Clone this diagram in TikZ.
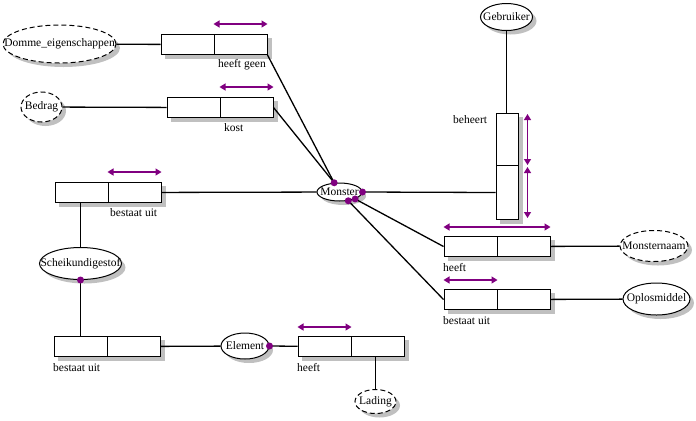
\documentclass[tikz,border=0pt]{standalone}
\usepackage{fontspec}
\setmainfont{Liberation Serif}
\usetikzlibrary{shapes.geometric,arrows.meta,calc}
\definecolor{orm}{RGB}{128,0,128}
\definecolor{shadowgrey}{RGB}{192,192,192}
\pgfdeclarelayer{shadowlayer}
\pgfsetlayers{shadowlayer,main}
\newcommand\ellshadow[3]{\fill[shadowgrey] ($(#1.center)+(4,4)$) ellipse [x radius=#2, y radius=#3];}
\newcommand\boxshadow[2]{\fill[shadowgrey] ($(#1.north west)+(4,4)$) rectangle ($(#2.south east)+(4,4)$);}
\begin{document}
\begin{tikzpicture}[x=1bp,y=-1bp,line width=1bp,
  font=\fontsize{11.5bp}{13bp}\selectfont,
  obj/.style={ellipse, draw, fill=white, inner sep=0pt},
  val/.style={obj, dash pattern=on 5bp off 3bp},
  role/.style={rectangle, draw, fill=white, inner sep=0pt, minimum width=53bp, minimum height=20bp, anchor=north west},
  vrole/.style={rectangle, draw, fill=white, inner sep=0pt, minimum width=22bp, anchor=north west},
  uc/.style={draw=orm, line width=1.2bp, {Triangle[length=6bp,width=7bp]}-{Triangle[length=6bp,width=7bp]}},
  conn/.style={line width=1.3bp},
  dot/.style={circle, fill=orm, inner sep=0pt, minimum size=7bp},
  lbl/.style={anchor=west, inner sep=0pt},
]
\useasboundingbox (0,0) rectangle (696,420);
\begin{scope}[shift={(0,0.5)}]

% object types
\node[val, minimum width=113bp, minimum height=38bp] (domme) at (59.5,43.5) {\makebox[0pt]{Domme\_eigenschappen}};
\node[val, minimum width=41bp, minimum height=30bp] (bedrag) at (41.5,106.5) {\makebox[0pt]{Bedrag}};
\node[obj, minimum width=45bp, minimum height=18bp] (monster) at (339.5,191.5) {\makebox[0pt]{Monster}};
\node[obj, minimum width=52bp, minimum height=27bp] (gebruiker) at (506.5,16.5) {\makebox[0pt]{Gebruiker}};
\node[obj, minimum width=82bp, minimum height=32bp] (schei) at (80.5,263) {\makebox[0pt]{Scheikundigestof}};
\node[obj, minimum width=48bp, minimum height=26bp] (element) at (245,345.5) {\makebox[0pt]{Element}};
\node[val, minimum width=41bp, minimum height=24bp] (lading) at (375.5,401) {\makebox[0pt]{Lading}};
\node[val, minimum width=68bp, minimum height=31bp] (mnaam) at (654,245.5) {\makebox[0pt]{Monsternaam}};
\node[obj, minimum width=67bp, minimum height=32bp] (oplos) at (656.5,298.5) {\makebox[0pt]{Oplosmiddel}};

% fact types (role boxes)
\node[role] (hg1) at (160.5,33.5) {};
\node[role] (hg2) at (213.5,33.5) {};
\node[role] (k1) at (166.5,96.5) {};
\node[role] (k2) at (219.5,96.5) {};
\node[role] (bu1a) at (54.5,181.5) {};
\node[role] (bu1b) at (107.5,181.5) {};
\node[role] (bu3a) at (53.5,335.5) {};
\node[role] (bu3b) at (106.5,335.5) {};
\node[role] (h3a) at (297.5,335.5) {};
\node[role] (h3b) at (350.5,335.5) {};
\node[role] (hr1) at (443.5,235.5) {};
\node[role] (hr2) at (496.5,235.5) {};
\node[role] (br1) at (443.5,288.5) {};
\node[role] (br2) at (496.5,288.5) {};
\node[vrole, minimum height=52bp] (beh1) at (495.5,112.5) {};
\node[vrole, minimum height=54bp] (beh2) at (495.5,164.5) {};

% shadows
\begin{pgfonlayer}{shadowlayer}
\ellshadow{domme}{56.5}{19}
\ellshadow{bedrag}{20.5}{15}
\ellshadow{monster}{22.5}{9}
\ellshadow{gebruiker}{26}{13.5}
\ellshadow{schei}{41}{16}
\ellshadow{element}{24}{13}
\ellshadow{lading}{20.5}{12}
\ellshadow{mnaam}{34}{15.5}
\ellshadow{oplos}{33.5}{16}
\boxshadow{hg1}{hg2}
\boxshadow{k1}{k2}
\boxshadow{bu1a}{bu1b}
\boxshadow{bu3a}{bu3b}
\boxshadow{h3a}{h3b}
\boxshadow{hr1}{hr2}
\boxshadow{br1}{br2}
\boxshadow{beh1}{beh2}
\end{pgfonlayer}

% labels
\node[lbl] (lhg) at (218,64) {heeft geen};
\node[lbl] (lk) at (224,127) {kost};
\node[lbl] (lbu1) at (110,212) {bestaat uit};
\node[lbl] (lbeh) at (453,119) {beheert};
\node[lbl] (lbu3) at (53,367) {bestaat uit};
\node[lbl] (lh3) at (297,367) {heeft};
\node[lbl] (lhr) at (443,267) {heeft};
\node[lbl] (lbr) at (443,320) {bestaat uit};

% uniqueness constraints
\draw[uc] ($(hg2.north west)+(0,-10)$) -- ($(hg2.north east)+(0,-10)$);
\draw[uc] ($(k2.north west)+(0,-10)$) -- ($(k2.north east)+(0,-10)$);
\draw[uc] ($(bu1b.north west)+(0,-10)$) -- ($(bu1b.north east)+(0,-10)$);
\draw[uc] ($(h3a.north west)+(0,-9)$) -- ($(h3a.north east)+(0,-9)$);
\draw[uc] ($(hr1.north west)+(0,-9)$) -- ($(hr2.north east)+(0,-9)$);
\draw[uc] ($(br1.north west)+(0,-9)$) -- ($(br1.north east)+(0,-9)$);
\draw[uc] ($(beh1.north east)+(9,1)$) -- ($(beh1.south east)+(9,-1)$);
\draw[uc] ($(beh2.north east)+(9,2)$) -- ($(beh2.south east)+(9,-2)$);

% mandatory-role dot positions
\coordinate (md1) at (monster.120);
\coordinate (md2) at (monster.east);
\coordinate (md3) at (monster.-45);
\coordinate (md4) at (monster.-24);
\coordinate (sd) at (schei.south);
\coordinate (ed) at (element.east);

% connectors
\draw[conn] (domme) -- (hg1);
\draw[conn] (bedrag) -- (k1);
\draw[conn] (hg2.south east) -- (md1);
\draw[conn] (k2.east) -- (md1);
\draw[conn] (bu1b) -- (monster);
\draw[conn] (md2) -- (beh2.west);
\draw[conn] (gebruiker.south) -- (gebruiker.south |- beh1.north);
\draw[conn] (md4) -- (hr1.west);
\draw[conn] (md3) -- (br1.west);
\draw[conn] (hr2) -- (mnaam);
\draw[conn] (br2) -- (oplos);
\draw[conn] (schei.north) -- (schei.north |- bu1a.south);
\draw[conn] (sd) -- (sd |- bu3a.north);
\draw[conn] (bu3b) -- (element);
\draw[conn] (ed) -- (h3a);
\draw[conn] (lading.north) -- (lading.north |- h3b.south);

% dots
\node[dot] (dd1) at (md1) {};
\node[dot] (dd2) at (md2) {};
\node[dot] (dd3) at (md3) {};
\node[dot] (dd4) at (md4) {};
\node[dot] (dd5) at (sd) {};
\node[dot] (dd6) at (ed) {};
\end{scope}
\end{tikzpicture}
\end{document}
